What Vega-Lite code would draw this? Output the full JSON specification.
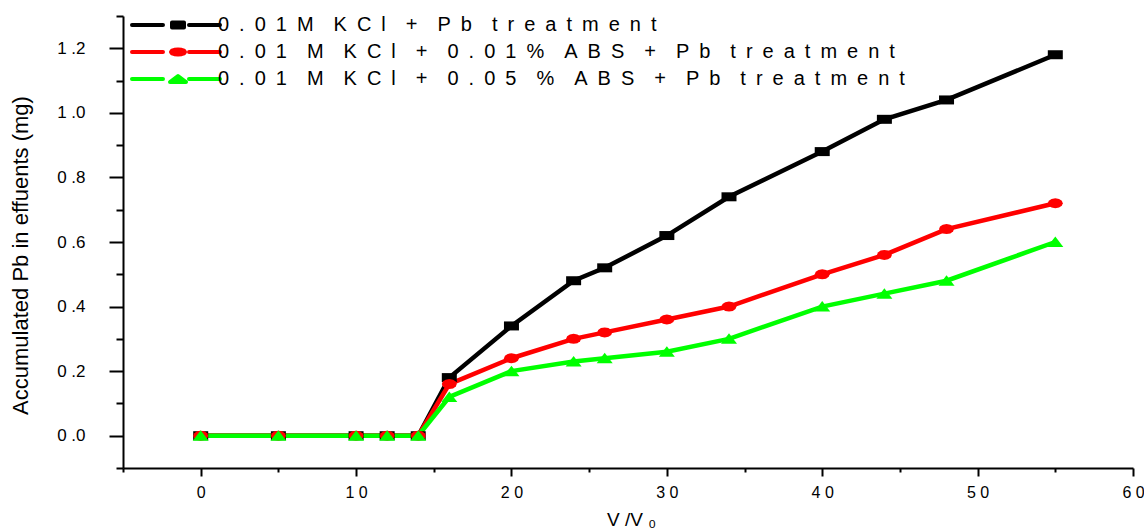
{
  "$schema": "https://vega.github.io/schema/vega-lite/v6.json",
  "width": 1010,
  "height": 452,
  "autosize": "none",
  "padding": {"left": 123, "top": 16, "right": 11, "bottom": 61},
  "background": "white",
  "config": {
    "view": {"stroke": null},
    "axis": {
      "domainColor": "black", "domainWidth": 2, "tickColor": "black", "tickWidth": 2,
      "grid": false, "labelColor": "black", "titleColor": "black",
      "labelFont": "Liberation Sans", "titleFont": "Liberation Sans", "titleFontWeight": "normal",
      "labelOverlap": false, "labelFlush": false, "labelBound": false
    }
  },
  "data": {
    "values": [
      {"series": "0.01M KCl + Pb treatment", "x": 0, "y": 0},
      {"series": "0.01M KCl + Pb treatment", "x": 5, "y": 0},
      {"series": "0.01M KCl + Pb treatment", "x": 10, "y": 0},
      {"series": "0.01M KCl + Pb treatment", "x": 12, "y": 0},
      {"series": "0.01M KCl + Pb treatment", "x": 14, "y": 0},
      {"series": "0.01M KCl + Pb treatment", "x": 16, "y": 0.18},
      {"series": "0.01M KCl + Pb treatment", "x": 20, "y": 0.34},
      {"series": "0.01M KCl + Pb treatment", "x": 24, "y": 0.48},
      {"series": "0.01M KCl + Pb treatment", "x": 26, "y": 0.52},
      {"series": "0.01M KCl + Pb treatment", "x": 30, "y": 0.62},
      {"series": "0.01M KCl + Pb treatment", "x": 34, "y": 0.74},
      {"series": "0.01M KCl + Pb treatment", "x": 40, "y": 0.88},
      {"series": "0.01M KCl + Pb treatment", "x": 44, "y": 0.98},
      {"series": "0.01M KCl + Pb treatment", "x": 48, "y": 1.04},
      {"series": "0.01M KCl + Pb treatment", "x": 55, "y": 1.18},
      {"series": "0.01 M KCl + 0.01% ABS + Pb treatment", "x": 0, "y": 0},
      {"series": "0.01 M KCl + 0.01% ABS + Pb treatment", "x": 5, "y": 0},
      {"series": "0.01 M KCl + 0.01% ABS + Pb treatment", "x": 10, "y": 0},
      {"series": "0.01 M KCl + 0.01% ABS + Pb treatment", "x": 12, "y": 0},
      {"series": "0.01 M KCl + 0.01% ABS + Pb treatment", "x": 14, "y": 0},
      {"series": "0.01 M KCl + 0.01% ABS + Pb treatment", "x": 16, "y": 0.16},
      {"series": "0.01 M KCl + 0.01% ABS + Pb treatment", "x": 20, "y": 0.24},
      {"series": "0.01 M KCl + 0.01% ABS + Pb treatment", "x": 24, "y": 0.30},
      {"series": "0.01 M KCl + 0.01% ABS + Pb treatment", "x": 26, "y": 0.32},
      {"series": "0.01 M KCl + 0.01% ABS + Pb treatment", "x": 30, "y": 0.36},
      {"series": "0.01 M KCl + 0.01% ABS + Pb treatment", "x": 34, "y": 0.40},
      {"series": "0.01 M KCl + 0.01% ABS + Pb treatment", "x": 40, "y": 0.50},
      {"series": "0.01 M KCl + 0.01% ABS + Pb treatment", "x": 44, "y": 0.56},
      {"series": "0.01 M KCl + 0.01% ABS + Pb treatment", "x": 48, "y": 0.64},
      {"series": "0.01 M KCl + 0.01% ABS + Pb treatment", "x": 55, "y": 0.72},
      {"series": "0.01 M KCl + 0.05 % ABS + Pb treatment", "x": 0, "y": 0},
      {"series": "0.01 M KCl + 0.05 % ABS + Pb treatment", "x": 5, "y": 0},
      {"series": "0.01 M KCl + 0.05 % ABS + Pb treatment", "x": 10, "y": 0},
      {"series": "0.01 M KCl + 0.05 % ABS + Pb treatment", "x": 12, "y": 0},
      {"series": "0.01 M KCl + 0.05 % ABS + Pb treatment", "x": 14, "y": 0},
      {"series": "0.01 M KCl + 0.05 % ABS + Pb treatment", "x": 16, "y": 0.12},
      {"series": "0.01 M KCl + 0.05 % ABS + Pb treatment", "x": 20, "y": 0.20},
      {"series": "0.01 M KCl + 0.05 % ABS + Pb treatment", "x": 24, "y": 0.23},
      {"series": "0.01 M KCl + 0.05 % ABS + Pb treatment", "x": 26, "y": 0.24},
      {"series": "0.01 M KCl + 0.05 % ABS + Pb treatment", "x": 30, "y": 0.26},
      {"series": "0.01 M KCl + 0.05 % ABS + Pb treatment", "x": 34, "y": 0.30},
      {"series": "0.01 M KCl + 0.05 % ABS + Pb treatment", "x": 40, "y": 0.40},
      {"series": "0.01 M KCl + 0.05 % ABS + Pb treatment", "x": 44, "y": 0.44},
      {"series": "0.01 M KCl + 0.05 % ABS + Pb treatment", "x": 48, "y": 0.48},
      {"series": "0.01 M KCl + 0.05 % ABS + Pb treatment", "x": 55, "y": 0.60}
    ]
  },
  "encoding": {
    "x": {
      "field": "x", "type": "quantitative",
      "scale": {"domain": [-5, 60], "nice": false, "zero": false},
      "axis": {
        "title": "V /V ₀",
        "values": [-5, 0, 5, 10, 15, 20, 25, 30, 35, 40, 45, 50, 55, 60],
        "labelExpr": "datum.value % 10 == 0 && datum.value >= 0 ? join(split(toString(datum.value), ''), ' ') : ''",
        "tickSize": {"condition": {"test": "datum.value % 10 == 0", "value": 8}, "value": 4},
        "labelFontSize": 16, "labelPadding": 8,
        "titleFontSize": 19, "titleX": 508, "titleY": 57, "titleBaseline": "alphabetic", "titleAlign": "center"
      }
    },
    "y": {
      "field": "y", "type": "quantitative",
      "scale": {"domain": [-0.1, 1.3], "nice": false, "zero": false},
      "axis": {
        "title": "Accumulated Pb in effuents (mg)",
        "values": [-0.1, 0, 0.1, 0.2, 0.3, 0.4, 0.5, 0.6, 0.7, 0.8, 0.9, 1.0, 1.1, 1.2, 1.3],
        "labelExpr": "round(datum.value * 10) % 2 == 0 && datum.value > -0.05 && datum.value < 1.25 ? replace(format(datum.value, '.1f'), '.', ' .') : ''",
        "tickSize": {"condition": {"test": "round(datum.value * 10) % 2 == 0", "value": 14}, "value": 7},
        "labelFontSize": 17, "labelPadding": 24,
        "titleFontSize": 22, "titleX": -103, "titleY": 239, "titleAngle": -90, "titleBaseline": "middle", "titleAlign": "center"
      }
    },
    "color": {
      "field": "series", "type": "nominal",
      "scale": {
        "domain": ["0.01M KCl + Pb treatment", "0.01 M KCl + 0.01% ABS + Pb treatment", "0.01 M KCl + 0.05 % ABS + Pb treatment"],
        "range": ["#000000", "#ff0000", "#00ff00"]
      },
      "legend": {
        "title": null, "orient": "none", "legendX": 0, "legendY": -1, "padding": 0,
        "symbolSize": 100, "symbolStrokeWidth": 4, "symbolOffset": 0,
        "labelOffset": 75, "labelFontSize": 20, "labelFont": "Liberation Sans", "labelColor": "black", "labelLimit": 0,
        "rowPadding": 7,
        "labelExpr": "datum.value == '0.01M KCl + Pb treatment' ? '0\u2002.\u20020\u20021\u2002M\u2002\u2002K\u2002C\u2002l\u2002\u2002+\u2002\u2002P\u2002b\u2002\u2002t\u2002r\u2002e\u2002a\u2002t\u2002m\u2002e\u2002n\u2002t' : datum.value == '0.01 M KCl + 0.01% ABS + Pb treatment' ? '0\u2002.\u20020\u20021\u2002\u2002M\u2002\u2002K\u2002C\u2002l\u2002\u2002+\u2002\u20020\u2002.\u20020\u20021\u2002%\u2002\u2002A\u2002B\u2002S\u2002\u2002+\u2002\u2002P\u2002b\u2002\u2002t\u2002r\u2002e\u2002a\u2002t\u2002m\u2002e\u2002n\u2002t' : '\u20020\u2002.\u20020\u20021\u2002\u2002M\u2002\u2002K\u2002C\u2002l\u2002\u2002+\u2002\u20020\u2002.\u20020\u20025\u2002\u2002%\u2002\u2002A\u2002B\u2002S\u2002\u2002+\u2002\u2002P\u2002b\u2002\u2002t\u2002r\u2002e\u2002a\u2002t\u2002m\u2002e\u2002n\u2002t'",
        "encode": {
          "symbols": {
            "update": {
              "shape": {"signal": "datum.value == '0.01M KCl + Pb treatment' ? 'M-0.2,0H6M11.2,0H17.4M7.8,-0.5H10.2V0.5H7.8Z' : datum.value == '0.01 M KCl + 0.01% ABS + Pb treatment' ? 'M-0.2,0H6M11.2,0H17.4M10.4,0L10.21,0.25L9.7,0.43L9,0.5L8.3,0.43L7.79,0.25L7.6,0L7.79,-0.25L8.3,-0.43L9,-0.5L9.7,-0.43L10.21,-0.25Z' : 'M-0.2,0H6M11.2,0H17.4M9,-0.6L10.6,0.6L7.4,0.6Z'"},
              "fill": {"scale": "color", "field": "value"},
              "stroke": {"scale": "color", "field": "value"},
              "strokeWidth": {"value": 4},
              "strokeCap": {"value": "round"},
              "strokeJoin": {"value": "round"},
              "opacity": {"value": 1}
            }
          }
        }
      }
    }
  },
  "layer": [
    {"mark": {"type": "line", "strokeWidth": 4.5}},
    {
      "transform": [{"filter": "datum.series == '0.01M KCl + Pb treatment'"}],
      "mark": {"type": "point", "filled": true, "opacity": 1, "size": 100, "shape": "M-1.5,-0.9H1.5V0.9H-1.5Z"}
    },
    {
      "transform": [{"filter": "datum.series == '0.01 M KCl + 0.01% ABS + Pb treatment'"}],
      "mark": {"type": "point", "filled": true, "opacity": 1, "size": 100, "shape": "M1.5,0L1.3,0.5L0.75,0.87L0,1L-0.75,0.87L-1.3,0.5L-1.5,0L-1.3,-0.5L-0.75,-0.87L0,-1L0.75,-0.87L1.3,-0.5Z"}
    },
    {
      "transform": [{"filter": "datum.series == '0.01 M KCl + 0.05 % ABS + Pb treatment'"}],
      "mark": {"type": "point", "filled": true, "opacity": 1, "size": 100, "shape": "M0,-1.1L1.6,1L-1.6,1Z"}
    }
  ]
}
